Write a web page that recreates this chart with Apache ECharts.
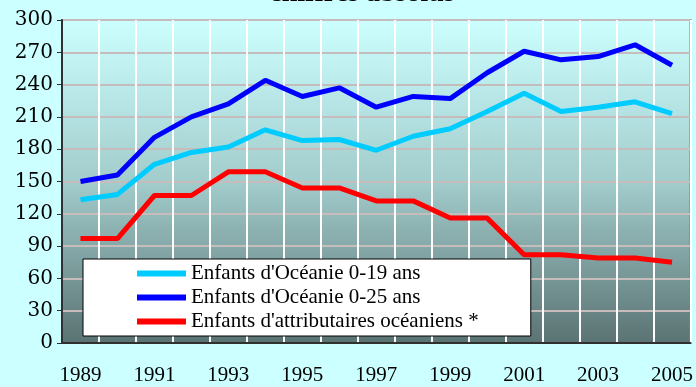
<!DOCTYPE html>
<html><head><meta charset="utf-8">
<script src="https://cdn.jsdelivr.net/npm/echarts@6/dist/echarts.min.js"></script>
<style>html,body{margin:0;padding:0;background:#ccffff;}#c{width:696px;height:387px;}</style>
</head><body><div id="c"></div>
<script>
const years = ['1989','1990','1991','1992','1993','1994','1995','1996','1997','1998','1999','2000','2001','2002','2003','2004','2005'];
const oceanie019 = [133,138,166,177,182,198,188,189,179,192,199,215,232,215,219,224,213];
const oceanie025 = [150,156,191,210,222,244,229,237,219,229,227,251,271,263,266,277,258];
const attributaires = [97,97,137,137,159,159,144,144,132,132,116,116,82,82,79,79,75];
const seriesNames = ["Enfants d'Océanie 0-19 ans","Enfants d'Océanie 0-25 ans","Enfants d'attributaires océaniens *"];
const titleText = 'chiffres absolus';

const chart = echarts.init(document.getElementById('c'));
const serif = '"Liberation Serif", "Times New Roman", serif';
chart.setOption({
  backgroundColor: '#ccffff',
  animation: false,
  graphic: [{
    type: 'text', x: 362, y: -6,
    style: { text: titleText, align: 'center', verticalAlign: 'middle', font: 'bold 28px ' + serif, fill: '#000' }
  }],
  grid: {
    left: 62, right: 5, top: 20, bottom: 44, show: true,
    borderColor: '#808080', borderWidth: 2,
    backgroundColor: { type: 'linear', x: 0, y: 0, x2: 0, y2: 1,
      colorStops: [{offset: 0, color: '#ccffff'}, {offset: 0.5, color: '#a3cccc'}, {offset: 1, color: '#5a7272'}] }
  },
  legend: {
    orient: 'vertical', left: 83, top: 259,
    backgroundColor: '#ffffff', borderColor: '#000000', borderWidth: 1,
    padding: [4, 52, 4, 54], itemGap: 3, itemWidth: 49, itemHeight: 6, icon: 'rect',
    textStyle: { fontFamily: serif, fontSize: 21, color: '#000', lineHeight: 20 },
    data: seriesNames
  },
  xAxis: {
    type: 'category', data: years, boundaryGap: true,
    axisLine: { lineStyle: { color: '#303030', width: 2 } },
    axisTick: { interval: 0, length: 5, lineStyle: { color: '#303030', width: 1 } },
    axisLabel: { interval: 1, margin: 22, fontFamily: serif, fontSize: 21, color: '#000' },
    splitLine: { show: true, interval: 0, lineStyle: { color: '#ffffff', width: 2 } }
  },
  yAxis: {
    type: 'value', min: 0, max: 300, interval: 30,
    axisLine: { show: true, lineStyle: { color: '#303030', width: 2 } },
    axisTick: { show: true, length: 5, lineStyle: { color: '#303030', width: 1 } },
    axisLabel: { margin: 9, fontFamily: '"DejaVu Serif", serif', fontSize: 20, color: '#000' },
    splitLine: { show: true, lineStyle: { color: '#c6bcbc', width: 2 } }
  },
  series: [
    { name: seriesNames[0], type: 'line', data: oceanie019, showSymbol: false, lineStyle: { color: '#00ccff', width: 5 }, itemStyle: { color: '#00ccff' } },
    { name: seriesNames[1], type: 'line', data: oceanie025, showSymbol: false, lineStyle: { color: '#0000ff', width: 5 }, itemStyle: { color: '#0000ff' } },
    { name: seriesNames[2], type: 'line', data: attributaires, showSymbol: false, lineStyle: { color: '#ff0000', width: 5 }, itemStyle: { color: '#ff0000' } }
  ]
});
</script></body></html>
